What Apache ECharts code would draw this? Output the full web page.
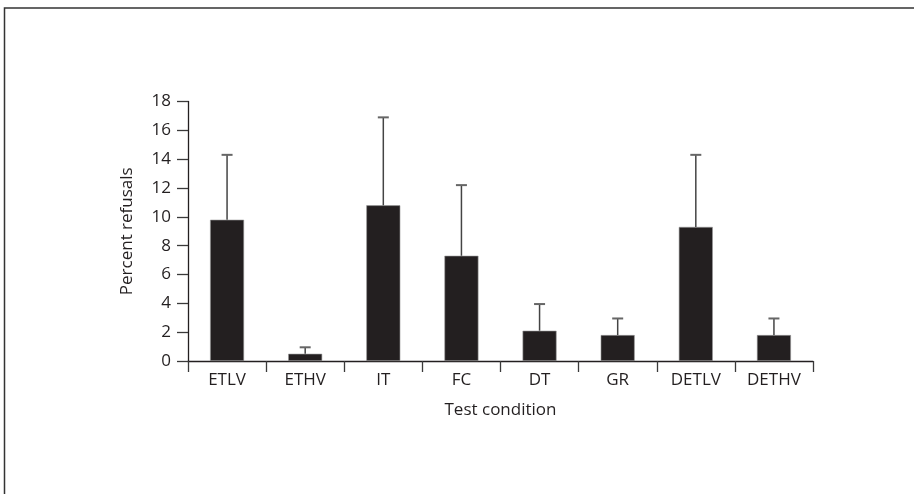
<!DOCTYPE html>
<html>
<head>
<meta charset="utf-8">
<script src="https://cdn.jsdelivr.net/npm/echarts@6/dist/echarts.min.js"></script>
<style>
html,body{margin:0;padding:0;background:#fff;}
#chart{width:914px;height:494px;}
</style>
</head>
<body>
<div id="chart"></div>
<script>
var categories = ['ETLV', 'ETHV', 'IT', 'FC', 'DT', 'GR', 'DETLV', 'DETHV'];
var meanValues = [9.8, 0.5, 10.8, 7.3, 2.1, 1.8, 9.3, 1.8];
var upperValues = [14.3, 0.95, 16.9, 12.2, 3.95, 2.95, 14.3, 2.95];
var yTicks = [0, 18, 2];

var chart = echarts.init(document.getElementById('chart'));
var font = '"Open Sans", "Noto Sans", sans-serif';
var ink = '#231f20';

var errorData = categories.map(function (c, i) { return [i, meanValues[i], upperValues[i]]; });

chart.setOption({
  animation: false,
  backgroundColor: '#fff',
  grid: { left: 188, right: 101, top: 101.5, bottom: 133, containLabel: false },
  graphic: [{
    type: 'polyline',
    silent: true,
    shape: { points: [[4.5, 494], [4.5, 8], [914, 8]] },
    style: { stroke: '#333', lineWidth: 1.5, fill: null }
  }],
  xAxis: {
    type: 'category',
    data: categories,
    boundaryGap: true,
    name: 'Test condition',
    nameLocation: 'middle',
    nameGap: 41,
    nameTextStyle: { color: ink, fontFamily: font, fontSize: 17 },
    axisLine: { show: true, lineStyle: { color: ink, width: 1.3 } },
    axisTick: { show: true, interval: 0, alignWithLabel: false, inside: false, length: 11, lineStyle: { color: '#3a3a3a', width: 1.3 } },
    axisLabel: { color: ink, fontFamily: font, fontSize: 17, margin: 11, interval: 0 },
    splitLine: { show: false }
  },
  yAxis: {
    type: 'value',
    min: yTicks[0],
    max: yTicks[1],
    interval: yTicks[2],
    name: 'Percent refusals',
    nameLocation: 'middle',
    nameGap: 52,
    nameTextStyle: { color: ink, fontFamily: font, fontSize: 17 },
    axisLine: { show: true, lineStyle: { color: ink, width: 1.3 } },
    axisTick: { show: true, inside: false, length: 11, lineStyle: { color: '#3a3a3a', width: 1.3 } },
    axisLabel: { color: ink, fontFamily: font, fontSize: 17, margin: 17 },
    splitLine: { show: false }
  },
  series: [{
    type: 'bar',
    data: meanValues,
    barWidth: 34,
    itemStyle: { color: ink, borderColor: '#9a9a9a', borderWidth: 0.6 },
    z: 2
  }, {
    type: 'custom',
    data: errorData,
    z: 3,
    renderItem: function (params, api) {
      var x = api.value(0);
      var base = api.coord([x, api.value(1)]);
      var top = api.coord([x, api.value(2)]);
      return {
        type: 'group',
        children: [{
          type: 'line',
          shape: { x1: base[0], y1: base[1], x2: top[0], y2: top[1] },
          style: { stroke: '#444', lineWidth: 1.5 }
        }, {
          type: 'line',
          shape: { x1: top[0] - 5.5, y1: top[1], x2: top[0] + 5.5, y2: top[1] },
          style: { stroke: '#666', lineWidth: 2 }
        }]
      };
    }
  }]
});
</script>
</body>
</html>
